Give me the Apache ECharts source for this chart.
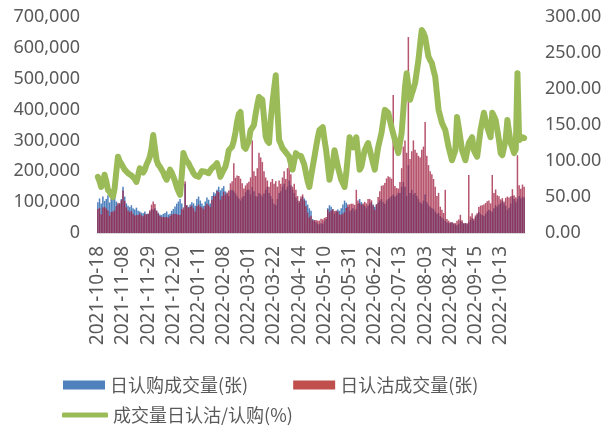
<!DOCTYPE html>
<html>
<head>
<meta charset="utf-8">
<script src="https://cdn.jsdelivr.net/npm/echarts@6/dist/echarts.min.js"></script>
<style>
html,body{margin:0;padding:0;background:#fff;}
#chart{width:605px;height:430px;}
</style>
</head>
<body>
<div id="chart"></div>
<script>
// ---- categories: SSE trading days from 2021-10-18 ----
const startDate = '2021-10-18';
const dayCount = 255;
const holidays = ['2022-01-03','2022-01-31','2022-02-01','2022-02-02','2022-02-03','2022-02-04',
  '2022-04-04','2022-04-05','2022-05-02','2022-05-03','2022-05-04','2022-06-03','2022-09-12',
  '2022-10-03','2022-10-04','2022-10-05','2022-10-06','2022-10-07'];
function tradingDays(start, n, hol) {
  const out = [];
  const d = new Date(start + 'T00:00:00Z');
  while (out.length < n) {
    const wd = d.getUTCDay();
    const s = d.toISOString().slice(0, 10);
    if (wd !== 0 && wd !== 6 && hol.indexOf(s) < 0) out.push(s);
    d.setUTCDate(d.getUTCDate() + 1);
  }
  return out;
}
const categories = tradingDays(startDate, dayCount, holidays);

// ---- series values ----
const callVolume = [
100000,112000,96000,118000,104000,110000,122000,99000,128000,140000,
118000,102000,92000,96000,110000,150000,118000,96000,88000,84000,
90000,80000,76000,82000,72000,70000,66000,64000,70000,62000,
62000,70000,78000,75000,80000,72000,66000,60000,58000,62000,
65000,70000,60000,62000,72000,78000,86000,95000,102000,110000,
96000,75000,160000,90000,85000,92000,100000,96000,88000,110000,
118000,105000,96000,88000,102000,115000,108000,96000,120000,132000,
128000,140000,150000,138000,145000,152000,135000,128000,120000,138000,
140000,135000,128000,120000,112000,105000,115000,120000,132000,140000,
140000,125000,150000,135000,120000,118000,130000,125000,118000,128000,
140000,150000,130000,120000,110000,95000,90000,110000,130000,135000,
150000,160000,140000,150000,170000,155000,140000,130000,115000,105000,
98000,110000,118000,112000,105000,92000,80000,72000,45000,40000,
35000,30000,28000,32000,30000,38000,45000,80000,90000,85000,
78000,62000,70000,76000,72000,80000,92000,105000,98000,85000,
70000,75000,80000,72000,78000,95000,110000,100000,92000,88000,
80000,88000,95000,100000,92000,85000,90000,98000,105000,110000,
100000,95000,105000,110000,115000,120000,125000,118000,122000,130000,
130000,150000,165000,150000,120000,220000,130000,140000,125000,130000,
120000,110000,100000,95000,105000,125000,100000,90000,85000,80000,
78000,70000,62000,65000,55000,50000,45000,40000,35000,32000,
32000,35000,30000,28000,25000,30000,40000,36000,30000,32000,
28000,35000,42000,48000,40000,52000,60000,68000,62000,58000,
55000,62000,70000,75000,72000,68000,80000,90000,85000,92000,
98000,105000,96000,88000,75000,82000,95000,120000,110000,100000,
110000,120000,112000,118000,115000
];
const putVolume = [
78000,81000,61000,83000,84000,79000,73000,56000,68000,70000,
73000,87000,98000,96000,106000,138000,104000,83000,73000,68000,
72000,62000,57000,58000,58000,63000,57000,54000,62000,59000,
62000,74000,92000,102000,94000,73000,63000,55000,51000,52000,
51000,52000,49000,55000,60000,61000,62000,61000,59000,58000,
77000,83000,168000,90000,82000,85000,88000,80000,70000,87000,
92000,86000,83000,77000,87000,95000,90000,84000,108000,121000,
120000,136000,132000,108000,120000,134000,124000,131000,138000,161000,
168000,226000,179000,186000,185000,176000,161000,144000,154000,161000,
166000,180000,300000,200000,185000,210000,260000,245000,230000,200000,
180000,170000,150000,165000,175000,160000,168000,150000,170000,160000,
180000,200000,175000,210000,236000,190000,150000,160000,140000,120000,
104000,118000,125000,106000,87000,66000,51000,56000,41000,42000,
42000,40000,40000,46000,44000,49000,52000,76000,67000,73000,
76000,71000,73000,70000,60000,59000,63000,67000,81000,92000,
93000,95000,95000,91000,140000,105000,97000,92000,96000,101000,
96000,110000,110000,106000,89000,75000,94000,117000,135000,153000,
155000,162000,177000,184000,181000,176000,447000,152000,146000,144000,
165000,210000,280000,300000,260000,635000,240000,265000,300000,270000,
260000,250000,245000,270000,280000,360000,250000,220000,200000,190000,
175000,150000,120000,130000,85000,75000,65000,140000,45000,40000,
35000,35000,32000,32000,40000,44000,59000,41000,32000,32000,
32000,188000,54000,64000,46000,57000,64000,84000,89000,90000,
92000,97000,103000,105000,96000,188000,130000,141000,122000,119000,
109000,113000,102000,114000,118000,115000,119000,142000,122000,116000,
252000,155000,143000,157000,150000
];
const putCallRatio = [
78,72,64,70,81,72,60,57,53,50,
62,85,106,100,96,92,88,86,83,81,
80,78,75,71,80,90,87,84,88,95,
100,106,118,136,118,101,95,92,88,84,
78,74,81,88,84,78,72,64,58,53,
80,111,104,100,97,92,88,83,80,79,
78,82,86,88,85,83,83,87,90,92,
94,97,88,78,83,88,92,102,115,117,
120,128,140,155,165,168,140,120,117,115,
128,143,146,150,165,178,189,187,185,160,
134,128,125,157,180,200,219,170,129,124,
118,115,112,109,106,97,88,100,111,108,
106,107,106,95,83,72,64,78,92,105,
119,132,143,145,147,130,115,95,74,86,
97,115,104,92,83,74,69,64,83,108,
133,126,119,126,133,110,88,92,104,115,
120,125,116,106,97,88,104,119,129,139,
155,171,169,167,157,147,138,129,120,111,
125,139,170,203,222,204,185,193,200,208,
224,240,262,282,278,272,258,245,240,236,
226,217,194,171,162,153,148,143,131,119,
110,101,108,115,161,147,147,115,108,101,
113,125,129,133,115,110,106,124,143,155,
167,157,147,140,133,167,162,157,143,129,
111,108,106,130,157,140,125,118,111,116,
222,129,128,133,132
];

// ---- names & axis ticks ----
const seriesNames = ['日认购成交量(张)', '日认沽成交量(张)', '成交量日认沽/认购(%)'];
const leftAxis = { min: 0, max: 700000, interval: 100000 };
const rightAxis = { min: 0, max: 300, interval: 50 };
const labelEvery = 15;

const txt = '#595959';
const font = '"Noto Sans", "Open Sans", Arial, sans-serif';
const cjk = '"Noto Sans CJK SC", sans-serif';
const blue = '#4f81bd';
const red = '#c0504d';
const redBar = '#a02040';
const green = '#9bbb59';

const chart = echarts.init(document.getElementById('chart'), null, { renderer: 'canvas' });
chart.setOption({
  animation: false,
  backgroundColor: '#ffffff',
  textStyle: { fontFamily: font },
  grid: { left: 97, right: 80, top: 17, bottom: 197, containLabel: false },
  legend: [
    {
      data: [
        { name: seriesNames[0], itemStyle: { color: blue, opacity: 1 } },
        { name: seriesNames[1], itemStyle: { color: red, opacity: 1 } }
      ],
      left: 58, top: 371, itemWidth: 42, itemHeight: 9, itemGap: 45, icon: 'rect',
      textStyle: { color: txt, fontSize: 18, fontFamily: cjk }
    },
    {
      data: [{ name: seriesNames[2], itemStyle: { color: green } }],
      left: 57, top: 401, itemWidth: 46, itemHeight: 5, itemGap: 10, icon: 'roundRect',
      textStyle: { color: txt, fontSize: 18, fontFamily: cjk }
    }
  ],
  xAxis: {
    type: 'category',
    data: categories,
    boundaryGap: true,
    axisLine: { show: true, lineStyle: { color: '#d9d9d9' } },
    axisTick: { show: false },
    axisLabel: {
      interval: labelEvery - 1, rotate: 90, margin: 13,
      color: txt, fontSize: 19, fontFamily: font
    },
    splitLine: { show: false }
  },
  yAxis: [
    {
      type: 'value', min: leftAxis.min, max: leftAxis.max, interval: leftAxis.interval,
      axisLine: { show: false }, axisTick: { show: false }, splitLine: { show: false },
      axisLabel: {
        margin: 17, color: txt, fontSize: 18, fontFamily: font,
        formatter: v => v.toLocaleString('en-US')
      }
    },
    {
      type: 'value', min: rightAxis.min, max: rightAxis.max, interval: rightAxis.interval,
      position: 'right',
      axisLine: { show: false }, axisTick: { show: false }, splitLine: { show: false },
      axisLabel: {
        margin: 20, color: txt, fontSize: 18, fontFamily: font,
        formatter: v => v.toFixed(2)
      }
    }
  ],
  series: [
    {
      name: seriesNames[0], type: 'bar', yAxisIndex: 0, data: callVolume,
      itemStyle: { color: blue },
      barGap: '-100%', barCategoryGap: '10%', z: 2
    },
    {
      name: seriesNames[1], type: 'bar', yAxisIndex: 0, data: putVolume,
      itemStyle: { color: redBar, opacity: 0.76 },
      barGap: '-100%', barCategoryGap: '10%', z: 3
    },
    {
      name: seriesNames[2], type: 'line', yAxisIndex: 1, data: putCallRatio,
      color: green,
      symbol: 'none', smooth: false,
      lineStyle: { color: green, width: 6, join: 'round', cap: 'round' },
      itemStyle: { color: green },
      z: 5
    }
  ]
});
</script>
</body>
</html>
